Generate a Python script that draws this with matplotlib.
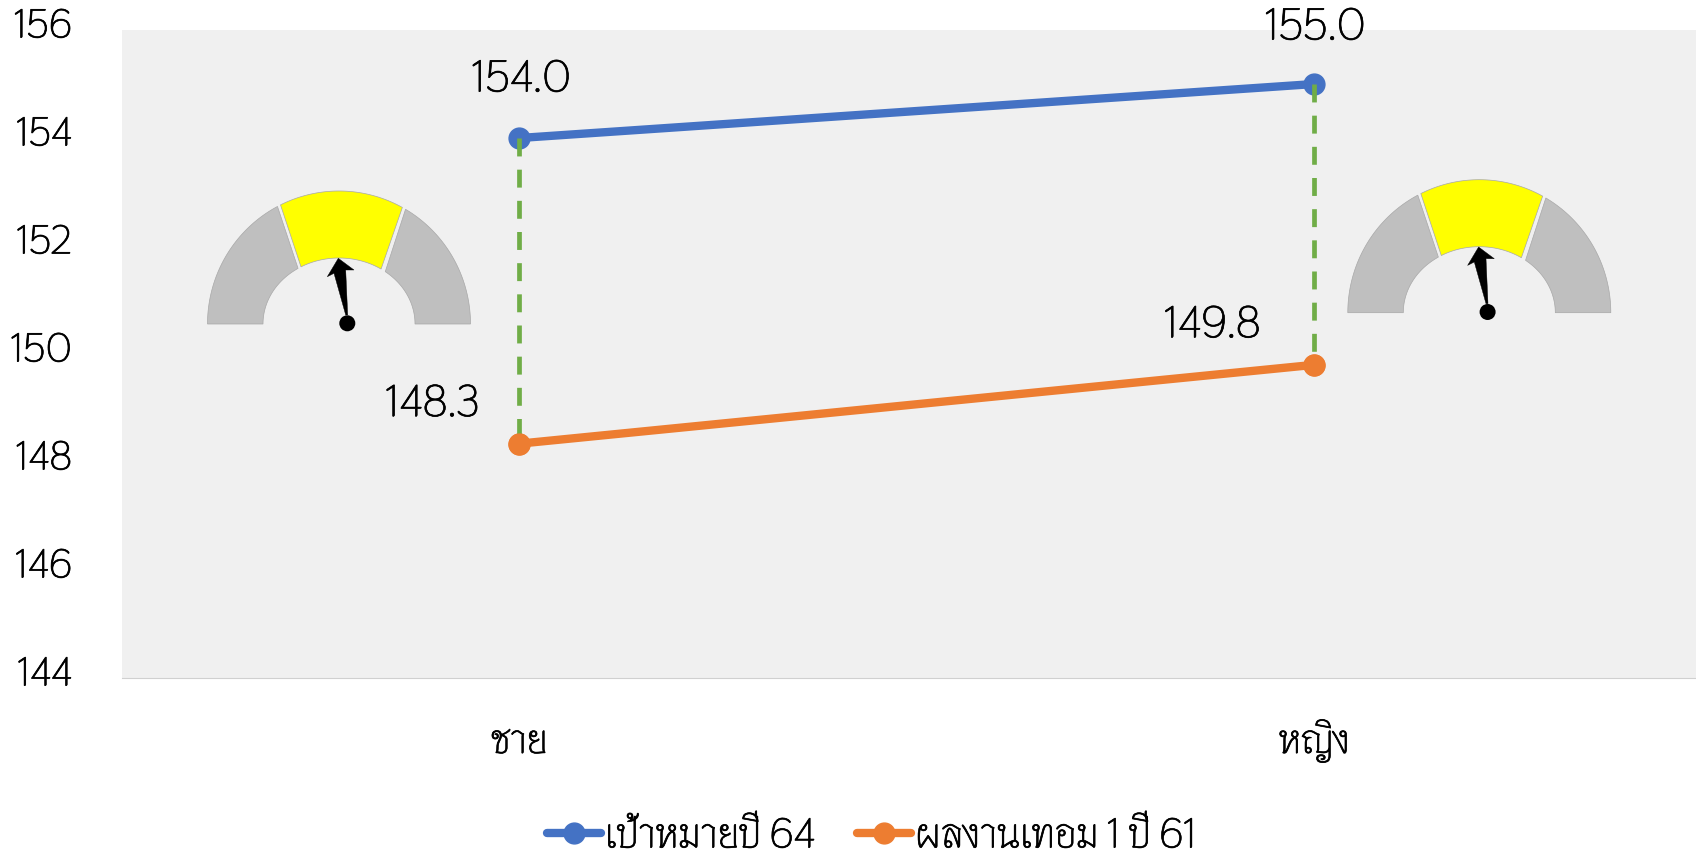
import numpy as np
import matplotlib
matplotlib.use("Agg")
import matplotlib.pyplot as plt
import matplotlib.patheffects as pe
from matplotlib.patches import Polygon, Circle
from matplotlib.text import Text
from matplotlib.transforms import ScaledTranslation

categories = ["ชาย", "หญิง"]
target_values = [154.0, 155.0]
actual_values = [148.34, 149.8]
target_name = "เป้าหมายปี 64"
actual_name = "ผลงานเทอม 1 ปี 61"
y_ticks = [144, 146, 148, 150, 152, 154, 156]

plt.rcParams["font.family"] = ["Thasadith", "Sarabun", "Noto Sans Thai", "Liberation Sans", "DejaVu Sans"]

W, H = 1696, 855
fig = plt.figure(figsize=(W / 100, H / 100), dpi=100)
L, T, R, B = 122, 30, 1696, 678
ax = fig.add_axes([L / W, 1 - B / H, (R - L) / W, (B - T) / H])
ax.set_facecolor("#F0F0F0")
ax.set_xlim(-0.5, 1.48)
ax.set_ylim(144, 156)
xs = list(range(len(categories)))

ax.plot(xs, target_values, color="#4472C4", lw=6, marker="o", ms=15, label=target_name,
        zorder=3, solid_capstyle="round")
ax.plot(xs, actual_values, color="#ED7D31", lw=6, marker="o", ms=15, label=actual_name,
        zorder=3, solid_capstyle="round")
for i in xs:
    ax.plot([i, i], [target_values[i], actual_values[i]], color="#70AD47", lw=3.4,
            dashes=(3.8, 2.8), dash_capstyle="butt", zorder=4)
    ax.plot([i], [actual_values[i]], color="#ED7D31", marker="o", ms=15, zorder=5)

for s in ["top", "left", "right"]:
    ax.spines[s].set_visible(False)
ax.spines["bottom"].set_color("#D0D0D0")
ax.set_yticks(y_ticks)
ax.set_xticks(xs, categories)
ax.tick_params(length=0)
ax.tick_params(axis="y", labelsize=29, pad=36)
ax.tick_params(axis="x", labelsize=29, pad=54)
shift = ScaledTranslation(0, 7 / 100, fig.dpi_scale_trans)
for t in ax.get_yticklabels():
    t.set_transform(t.get_transform() + shift)
for t in ax.get_xticklabels():
    t.set_va("baseline")

for i, v, dx, dy in [(0, target_values[0], 2, 59), (1, target_values[1], 1, 57),
                     (0, actual_values[0], -87, 40), (1, actual_values[1], -102, 40)]:
    ax.annotate(f"{v:.1f}", (i, v), xytext=(dx, dy), textcoords="offset pixels",
                fontsize=32, color="black", ha="center", va="center", annotation_clip=False)

leg = ax.legend(loc="center", bbox_to_anchor=(872 / W, 1 - 835 / H), bbox_transform=fig.transFigure,
                ncol=2, frameon=False, fontsize=30, handlelength=1.3, columnspacing=1.0,
                handletextpad=0.08, borderpad=0, borderaxespad=0)

for t in fig.findobj(Text):
    t.set_path_effects([pe.withStroke(linewidth=0.5, foreground="black")])

ov = fig.add_axes([0, 0, 1, 1])
ov.set_xlim(0, W)
ov.set_ylim(H, 0)
ov.axis("off")
ov.patch.set_alpha(0)


def segment(cx, cy, o1, o2, i1, i2, color):
    oa = np.radians(np.linspace(o1, o2, 60))
    ia = np.radians(np.linspace(i2, i1, 60))
    pts = list(zip(cx + 131.5 * np.cos(oa), cy - 133 * np.sin(oa)))
    pts += list(zip(cx + 76 * np.cos(ia), cy - 66 * np.sin(ia)))
    ov.add_patch(Polygon(pts, closed=True, fc=color, ec="#A8A8A8", lw=0.5))


def gauge(cx, cy):
    segment(cx, cy, 180, 117.9, 180, 122.6, "#BFBFBF")
    segment(cx, cy, 116.4, 61.2, 120, 56.4, "#FFFF00")
    segment(cx, cy, 59.6, 0, 52.5, 0, "#BFBFBF")
    needle = [(-0.7, -65.7), (15, -54), (6.7, -54), (8.7, -9), (6.7, -9), (-5, -50.7), (-11.7, -47.3)]
    ov.add_patch(Polygon([(cx + a, cy + b) for a, b in needle], fc="black", ec="black", lw=0.3))
    ov.add_patch(Circle((cx + 8.3, cy - 0.7), 8, fc="black", ec="none"))


gauge(339, 324)
gauge(1479.3, 312.7)
fig.savefig("out.png", dpi=100)
